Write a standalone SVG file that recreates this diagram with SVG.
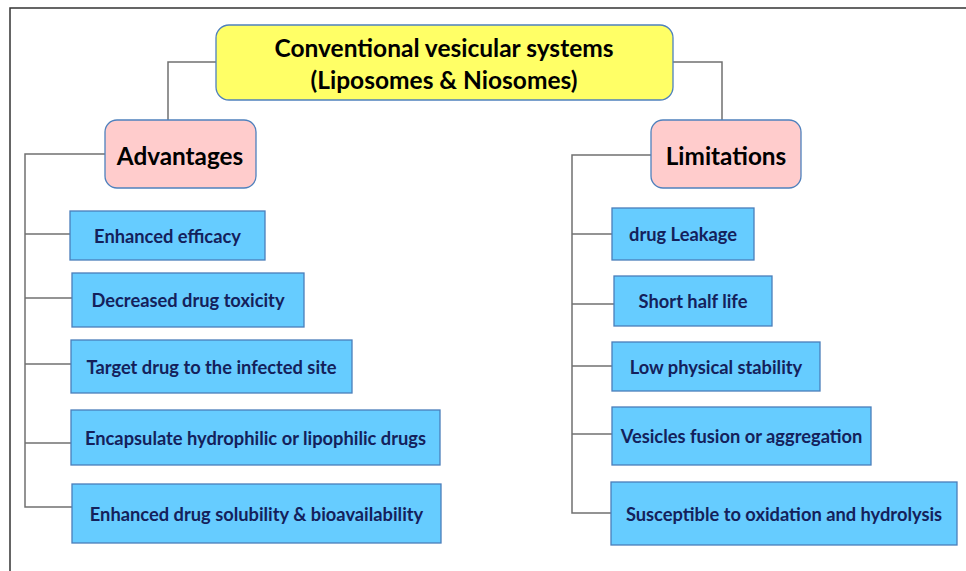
<svg xmlns="http://www.w3.org/2000/svg" width="966" height="571" viewBox="0 0 966 571">
<style>
.frame{fill:none;stroke:#333;stroke-width:1.5}
.conn{fill:none;stroke:#707070;stroke-width:1.5}
.title{fill:#FFFF66;stroke:#4F81BD;stroke-width:1.3}
.head{fill:#FFCCCC;stroke:#4F81BD;stroke-width:1.3}
.item{fill:#66CCFF;stroke:#4A7EBB;stroke-width:1.3}
text{font-family:Lato,"Open Sans","Liberation Sans",sans-serif;font-weight:bold;text-anchor:middle;dominant-baseline:central}
.tt{font-size:24.5px;fill:#000}
.ht{font-size:24.3px;fill:#000}
.it{font-size:18.3px;fill:#14215B}
</style>
<rect width="966" height="571" fill="#fff"/>
<rect class="frame" x="10" y="8" width="1000" height="600"/>
<g id="connectors">
<polyline class="conn" points="216,62 168,62 168,120"/>
<polyline class="conn" points="673,62 722,62 722,120"/>
<polyline class="conn" points="105,154 25,154 25,507 72,507"/>
<line class="conn" x1="25" y1="234" x2="70" y2="234"/>
<line class="conn" x1="25" y1="298" x2="72" y2="298"/>
<line class="conn" x1="25" y1="364" x2="71" y2="364"/>
<line class="conn" x1="25" y1="443" x2="71" y2="443"/>
<polyline class="conn" points="651,155 572,155 572,513 611,513"/>
<line class="conn" x1="572" y1="234" x2="612" y2="234"/>
<line class="conn" x1="572" y1="304" x2="614" y2="304"/>
<line class="conn" x1="572" y1="366" x2="612" y2="366"/>
<line class="conn" x1="572" y1="434" x2="612" y2="434"/>
</g>
<g id="root">
<rect class="title" x="216" y="25" width="457" height="75" rx="13"/>
<text class="tt" x="444" y="47">Conventional vesicular systems</text>
<text class="tt" x="444" y="79">(Liposomes &amp; Niosomes)</text>
</g>
<g id="advantages">
<rect class="head" x="105" y="120" width="151" height="68" rx="12"/>
<text class="ht" x="180" y="155">Advantages</text>
</g>
<g id="limitations">
<rect class="head" x="651" y="120" width="150" height="68" rx="12"/>
<text class="ht" x="726" y="155">Limitations</text>
</g>
<g id="adv1"><rect class="item" x="70" y="211" width="195" height="49"/><text class="it" x="167.5" y="236">Enhanced efficacy</text></g>
<g id="adv2"><rect class="item" x="72" y="273" width="232" height="54"/><text class="it" x="188" y="300">Decreased drug toxicity</text></g>
<g id="adv3"><rect class="item" x="71" y="340" width="281" height="53"/><text class="it" x="211.5" y="367">Target drug to the infected site</text></g>
<g id="adv4"><rect class="item" x="71" y="410" width="369" height="55"/><text class="it" x="255.5" y="438">Encapsulate hydrophilic or lipophilic drugs</text></g>
<g id="adv5"><rect class="item" x="72" y="484" width="369" height="59"/><text class="it" x="256.5" y="514">Enhanced drug solubility &amp; bioavailability</text></g>
<g id="lim1"><rect class="item" x="612" y="208" width="142" height="52"/><text class="it" x="683" y="234">drug Leakage</text></g>
<g id="lim2"><rect class="item" x="614" y="276" width="158" height="50"/><text class="it" x="693" y="301">Short half life</text></g>
<g id="lim3"><rect class="item" x="612" y="342" width="208" height="49"/><text class="it" x="716" y="367">Low physical stability</text></g>
<g id="lim4"><rect class="item" x="612" y="407" width="259" height="58"/><text class="it" x="741.5" y="436">Vesicles fusion or aggregation</text></g>
<g id="lim5"><rect class="item" x="611" y="482" width="346" height="63"/><text class="it" x="784" y="514">Susceptible to oxidation and hydrolysis</text></g>
</svg>
